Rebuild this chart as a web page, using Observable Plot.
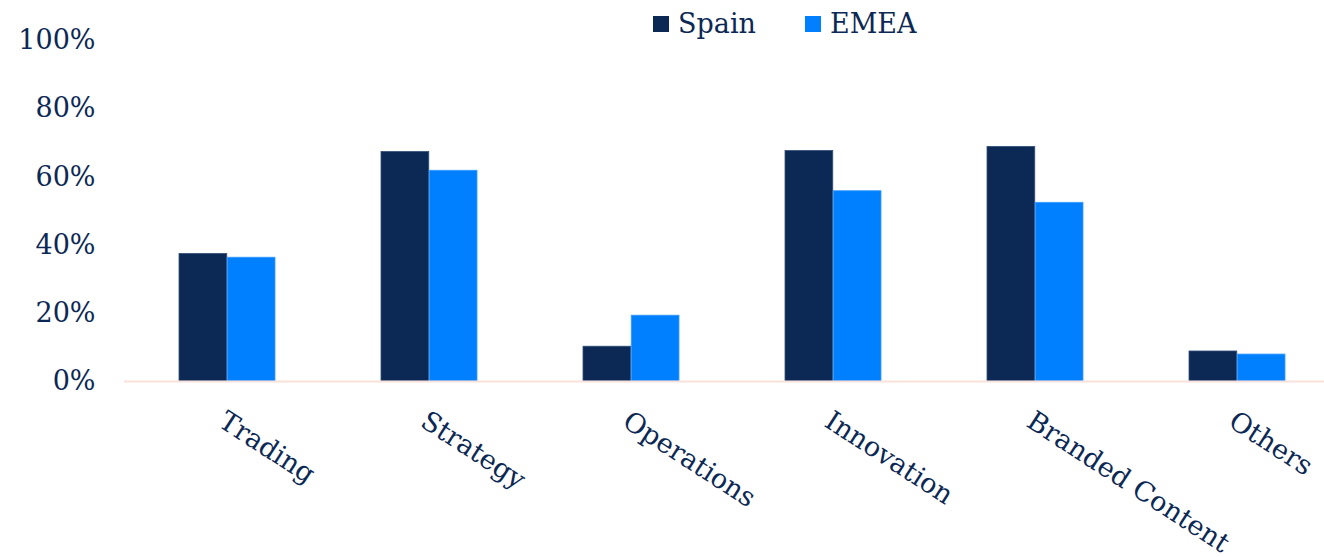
<!DOCTYPE html>
<html>
<head>
<meta charset="utf-8">
<script src="https://cdn.jsdelivr.net/npm/d3@7"></script>
<script src="https://cdn.jsdelivr.net/npm/@observablehq/plot@0.6"></script>
<style>
  html, body { margin: 0; padding: 0; background: #fff; }
  #wrap { position: relative; width: 1324px; height: 557px; overflow: hidden; font-family: "DejaVu Serif", serif; color: #0c2854; }
  #legend { position: absolute; top: 0; left: 0; width: 1324px; height: 40px; z-index: 2; }
  .item { position: absolute; top: 6px; display: flex; align-items: center; font-size: 27px; line-height: 36px; }
  .sw { width: 16px; height: 16px; margin-right: 9px; }
  svg { display: block; }
</style>
</head>
<body>
<div id="wrap">
  <div id="legend"></div>
  <div id="chart"></div>
</div>
<script>
const categories = ["Trading", "Strategy", "Operations", "Innovation", "Branded Content", "Others"];
const seriesNames = ["Spain", "EMEA"];
const spainValues = [0.374, 0.673, 0.102, 0.676, 0.688, 0.088];
const emeaValues = [0.363, 0.618, 0.193, 0.558, 0.524, 0.079];
const yTicks = [0, 0.2, 0.4, 0.6, 0.8, 1.0];
const seriesColors = ["#0c2854", "#0080ff"];
const seriesStrokes = ["#34507a", "#3a9bff"];

const spainRows = categories.map((c, i) => ({category: c, series: seriesNames[0], value: spainValues[i]}));
const emeaRows = categories.map((c, i) => ({category: c, series: seriesNames[1], value: emeaValues[i]}));

const textColor = "#0c2854";
const W = 1324, H = 557;
const xRange = [124, 1340];
const step = (xRange[1] - xRange[0]) / categories.length;
const padInner = 0.524;
const half = step * (1 - padInner) / 2;

const chart = Plot.plot({
  width: W,
  height: H,
  marginLeft: 124,
  marginRight: 0,
  marginTop: 40,
  marginBottom: 176,
  style: {fontFamily: "DejaVu Serif, serif", color: textColor, background: "transparent"},
  x: {domain: categories, range: xRange, paddingInner: padInner, paddingOuter: padInner / 2, label: null},
  y: {domain: [0, 1], label: null},
  color: {domain: seriesNames, range: seriesColors},
  marks: [
    Plot.barY(spainRows, {x: "category", y: "value", fill: seriesColors[0], stroke: seriesStrokes[0], strokeWidth: 0.8, insetRight: half}),
    Plot.barY(emeaRows, {x: "category", y: "value", fill: seriesColors[1], stroke: seriesStrokes[1], strokeWidth: 0.8, insetLeft: half}),
    Plot.ruleY([0], {stroke: "#f9e2dc", strokeWidth: 2}),
    Plot.axisY({ticks: yTicks, tickFormat: d3.format(".0%"), tickSize: 0, tickPadding: 29, fontSize: 27, fill: textColor, label: null}),
    Plot.axisX({tickSize: 0, tickRotate: 33, tickPadding: 28, fontSize: 27, fill: textColor, label: null, textAnchor: "start", lineAnchor: "top"})
  ]
});
document.getElementById("chart").appendChild(chart);

const legend = document.getElementById("legend");
const legendLeft = [653, 805];
seriesNames.forEach((name, i) => {
  const item = document.createElement("div");
  item.className = "item";
  item.style.left = legendLeft[i] + "px";
  const sw = document.createElement("span");
  sw.className = "sw";
  sw.style.background = seriesColors[i];
  const label = document.createElement("span");
  label.textContent = name;
  item.appendChild(sw);
  item.appendChild(label);
  legend.appendChild(item);
});
</script>
</body>
</html>
